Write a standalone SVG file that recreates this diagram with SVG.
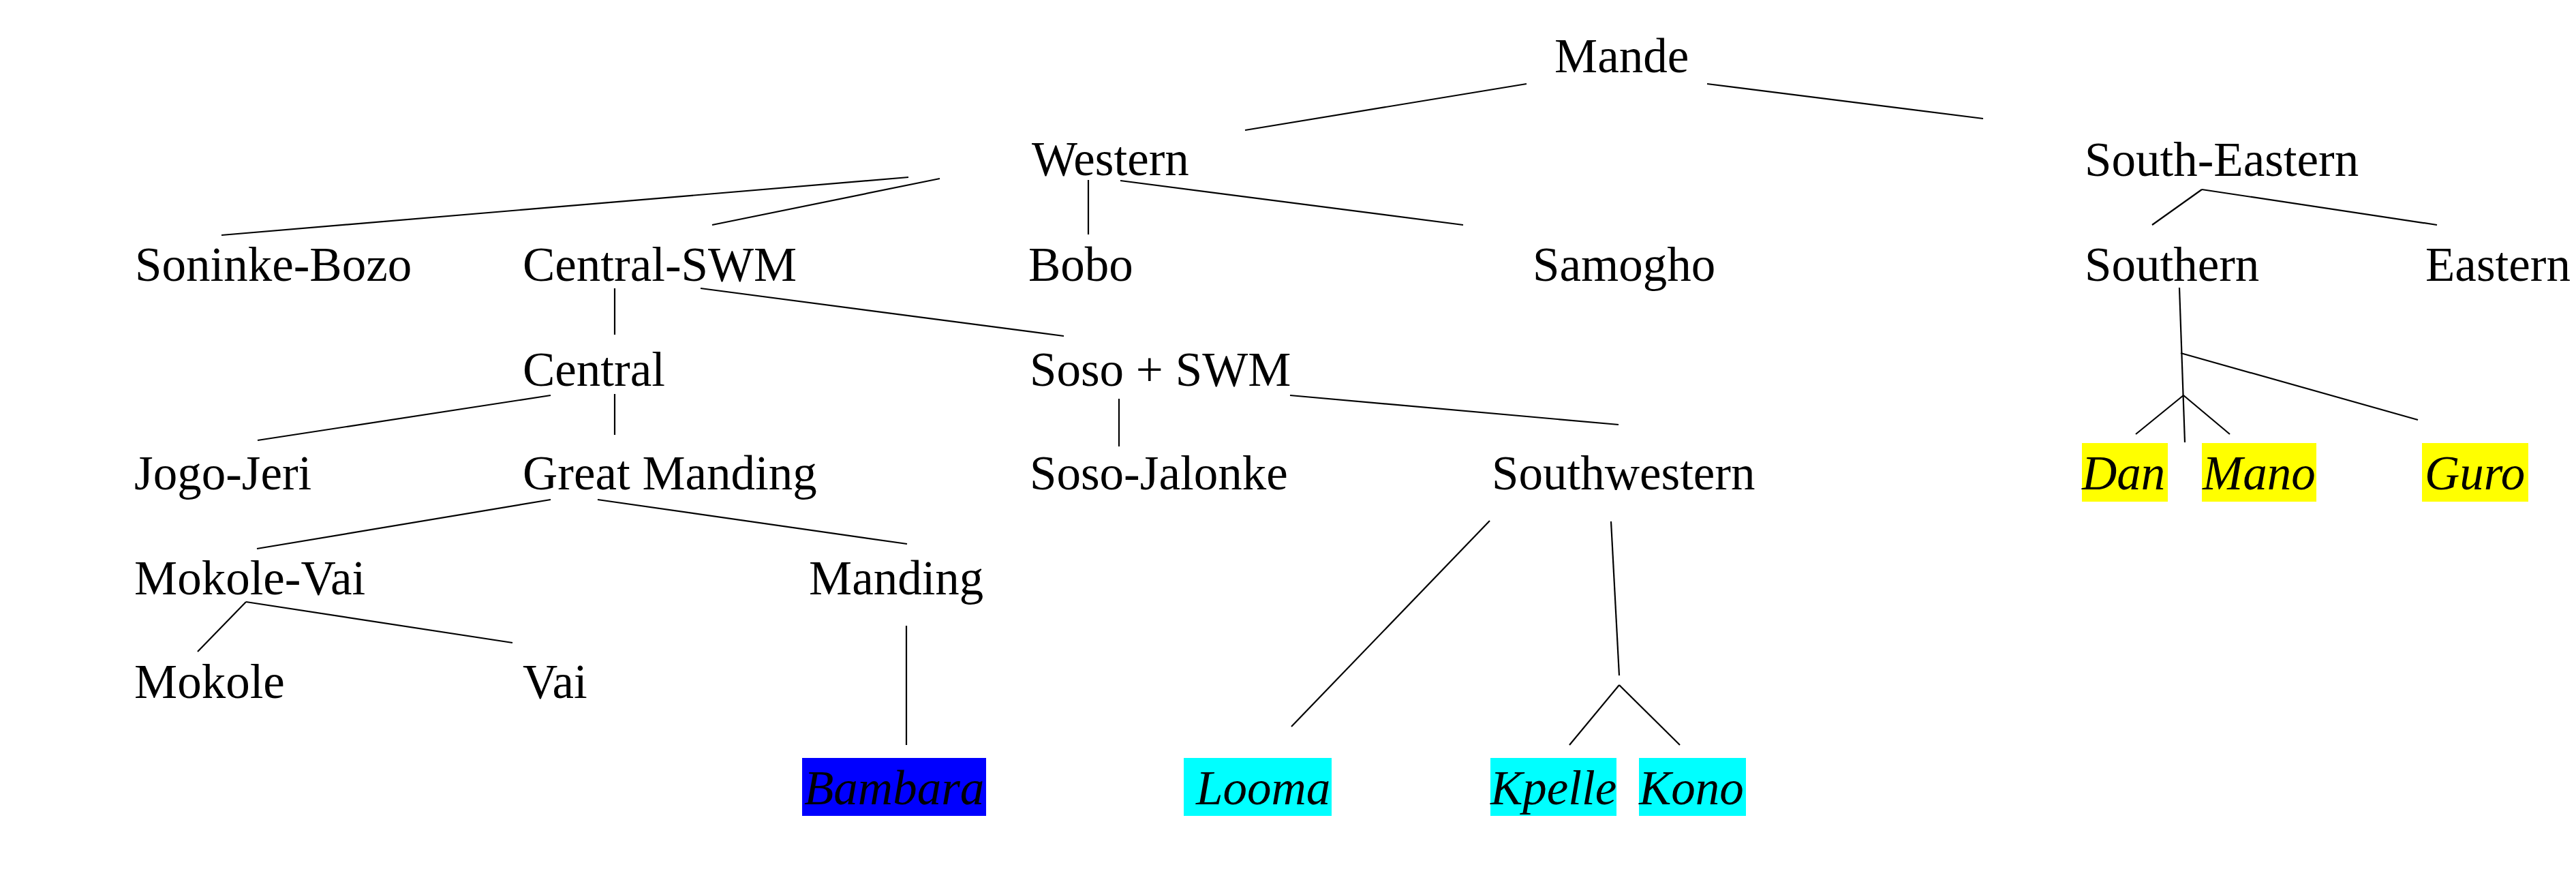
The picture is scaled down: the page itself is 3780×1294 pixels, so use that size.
<svg xmlns="http://www.w3.org/2000/svg" width="3780" height="1294" viewBox="0 0 3780 1294">
<style>
text { font-family: "Liberation Serif", "Times New Roman", serif; font-size: 71px; fill: #000; }
.it { font-style: italic; }
.edges line { stroke: #000; stroke-width: 2.2; stroke-linecap: butt; }
.y { fill: #FFFF00; }
.c { fill: #00FFFF; }
.b { fill: #0000FF; }
</style>
<rect width="3780" height="1294" fill="#fff"/>
<g class="edges" id="connectors">
<line x1="2240" y1="123" x2="1827" y2="191"/>
<line x1="2505" y1="123" x2="2910" y2="174"/>
<line x1="1333" y1="260" x2="325" y2="345"/>
<line x1="1379" y1="262" x2="1045" y2="330"/>
<line x1="1597" y1="264" x2="1597" y2="344"/>
<line x1="1644" y1="265" x2="2147" y2="330"/>
<line x1="902" y1="423" x2="902" y2="491"/>
<line x1="1028" y1="423" x2="1561" y2="493"/>
<line x1="808" y1="580" x2="378" y2="646"/>
<line x1="902" y1="578" x2="902" y2="638"/>
<line x1="1893" y1="580" x2="2375" y2="623"/>
<line x1="1642" y1="585" x2="1642" y2="655"/>
<line x1="808" y1="733" x2="377" y2="805"/>
<line x1="877" y1="733" x2="1331" y2="798"/>
<line x1="361" y1="883" x2="290" y2="956"/>
<line x1="361" y1="883" x2="752" y2="943"/>
<line x1="1330" y1="918" x2="1330" y2="1093"/>
<line x1="2186" y1="764" x2="1895" y2="1066"/>
<line x1="2364" y1="765" x2="2376" y2="991"/>
<line x1="2376" y1="1005" x2="2303" y2="1093"/>
<line x1="2376" y1="1005" x2="2465" y2="1093"/>
<line x1="3231" y1="278" x2="3158" y2="330"/>
<line x1="3231" y1="278" x2="3576" y2="330"/>
<line x1="3198" y1="422" x2="3206" y2="649"/>
<line x1="3200" y1="518" x2="3548" y2="616"/>
<line x1="3204" y1="580" x2="3134" y2="637"/>
<line x1="3204" y1="580" x2="3272" y2="637"/>
</g>
<g id="mande"><text x="2281" y="106">Mande</text></g>
<g id="western"><text x="1514" y="257">Western</text></g>
<g id="south-eastern"><text x="3059" y="258">South-Eastern</text></g>
<g id="soninke-bozo"><text x="198" y="412">Soninke-Bozo</text></g>
<g id="central-swm"><text x="767" y="412">Central-SWM</text></g>
<g id="bobo"><text x="1509" y="412">Bobo</text></g>
<g id="samogho"><text x="2249" y="412">Samogho</text></g>
<g id="southern"><text x="3059" y="412">Southern</text></g>
<g id="eastern"><text x="3559" y="412">Eastern</text></g>
<g id="central"><text x="767" y="566">Central</text></g>
<g id="soso-swm"><text x="1511" y="566">Soso + SWM</text></g>
<g id="jogo-jeri"><text x="197" y="718">Jogo-Jeri</text></g>
<g id="great-manding"><text x="767" y="718">Great Manding</text></g>
<g id="soso-jalonke"><text x="1511" y="718">Soso-Jalonke</text></g>
<g id="southwestern"><text x="2189" y="718">Southwestern</text></g>
<g id="mokole-vai"><text x="197" y="872">Mokole-Vai</text></g>
<g id="manding"><text x="1187" y="872">Manding</text></g>
<g id="mokole"><text x="197" y="1024">Mokole</text></g>
<g id="vai"><text x="767" y="1024">Vai</text></g>
<g id="bambara"><rect class="b" x="1177" y="1112" width="270" height="85"/><text class="it" x="1180" y="1180">Bambara</text></g>
<g id="looma"><rect class="c" x="1737" y="1112" width="217" height="85"/><text class="it" x="1755" y="1180">Looma</text></g>
<g id="kpelle"><rect class="c" x="2187" y="1112" width="185" height="85"/><text class="it" x="2187" y="1180">Kpelle</text></g>
<g id="kono"><rect class="c" x="2405" y="1112" width="157" height="85"/><text class="it" x="2405" y="1180">Kono</text></g>
<g id="dan"><rect class="y" x="3055" y="650" width="126" height="86"/><text class="it" x="3055" y="718">Dan</text></g>
<g id="mano"><rect class="y" x="3231" y="650" width="168" height="86"/><text class="it" x="3232" y="718">Mano</text></g>
<g id="guro"><rect class="y" x="3554" y="650" width="156" height="86"/><text class="it" x="3558" y="718">Guro</text></g>
</svg>
